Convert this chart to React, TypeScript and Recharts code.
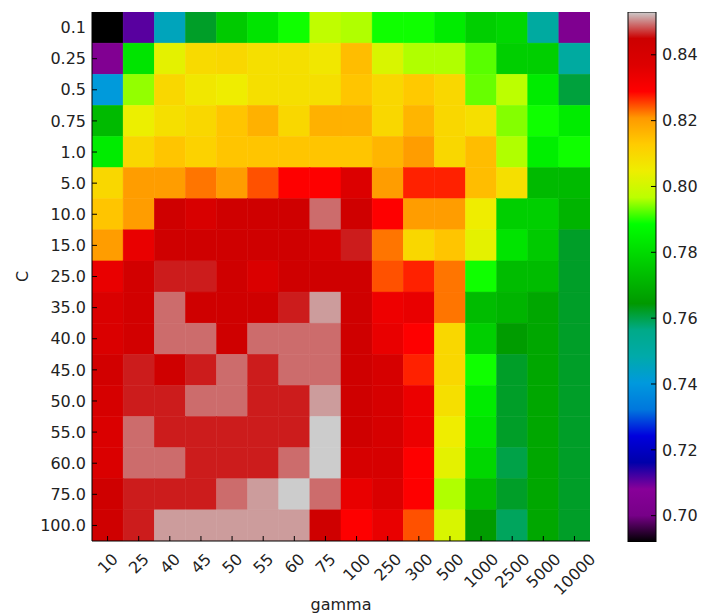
import { ScatterChart, Scatter, BarChart, Bar, XAxis, YAxis, Label } from 'recharts'

// grid search: SVM accuracy for each (C, gamma) pair
const GAMMAS = [10, 25, 40, 45, 50, 55, 60, 75, 100, 250, 300, 500, 1000, 2500, 5000, 10000]
const C_VALUES = [0.1, 0.25, 0.5, 0.75, 1.0, 5.0, 10.0, 15.0, 25.0, 35.0, 40.0, 45.0, 50.0, 55.0, 60.0, 75.0, 100.0]

// one row per C, one value per gamma
const SCORES = [
  [0.692, 0.711, 0.746, 0.762, 0.776, 0.782, 0.789, 0.7975, 0.796, 0.789, 0.789, 0.784, 0.777, 0.779, 0.751, 0.704],
  [0.705, 0.782, 0.803, 0.809, 0.81, 0.808, 0.808, 0.806, 0.815, 0.801, 0.796, 0.796, 0.792, 0.777, 0.777, 0.751],
  [0.741, 0.795, 0.81, 0.806, 0.805, 0.808, 0.808, 0.808, 0.814, 0.81, 0.813, 0.81, 0.793, 0.7965, 0.784, 0.761],
  [0.772, 0.804, 0.808, 0.81, 0.814, 0.817, 0.81, 0.817, 0.817, 0.81, 0.8165, 0.81, 0.808, 0.794, 0.789, 0.784],
  [0.784, 0.81, 0.814, 0.811, 0.814, 0.814, 0.814, 0.814, 0.814, 0.8165, 0.82, 0.81, 0.815, 0.796, 0.785, 0.789],
  [0.81, 0.82, 0.82, 0.8225, 0.82, 0.8245, 0.829, 0.829, 0.837, 0.82, 0.827, 0.827, 0.815, 0.808, 0.772, 0.772],
  [0.814, 0.82, 0.843, 0.839, 0.843, 0.843, 0.843, 0.8486, 0.843, 0.829, 0.82, 0.82, 0.805, 0.777, 0.777, 0.771],
  [0.82, 0.834, 0.843, 0.843, 0.843, 0.843, 0.843, 0.84, 0.846, 0.8225, 0.81, 0.814, 0.803, 0.782, 0.776, 0.762],
  [0.834, 0.842, 0.846, 0.846, 0.843, 0.838, 0.843, 0.843, 0.843, 0.8245, 0.827, 0.8225, 0.789, 0.773, 0.773, 0.762],
  [0.838, 0.842, 0.8486, 0.843, 0.843, 0.843, 0.846, 0.851, 0.843, 0.8324, 0.834, 0.8225, 0.773, 0.771, 0.768, 0.762],
  [0.838, 0.842, 0.8486, 0.8486, 0.843, 0.8486, 0.8486, 0.8486, 0.843, 0.834, 0.829, 0.81, 0.777, 0.765, 0.768, 0.762],
  [0.842, 0.846, 0.843, 0.846, 0.8486, 0.846, 0.8486, 0.8486, 0.843, 0.84, 0.827, 0.81, 0.789, 0.762, 0.768, 0.762],
  [0.84, 0.846, 0.846, 0.8486, 0.8486, 0.846, 0.846, 0.851, 0.843, 0.84, 0.833, 0.808, 0.784, 0.762, 0.768, 0.762],
  [0.838, 0.8486, 0.846, 0.846, 0.846, 0.846, 0.846, 0.853, 0.843, 0.84, 0.833, 0.805, 0.782, 0.762, 0.768, 0.762],
  [0.838, 0.8486, 0.8486, 0.846, 0.846, 0.846, 0.8486, 0.853, 0.84, 0.84, 0.829, 0.803, 0.779, 0.76, 0.768, 0.762],
  [0.843, 0.846, 0.846, 0.846, 0.8486, 0.851, 0.853, 0.8486, 0.834, 0.838, 0.829, 0.796, 0.772, 0.762, 0.768, 0.762],
  [0.843, 0.846, 0.851, 0.851, 0.851, 0.851, 0.851, 0.843, 0.829, 0.834, 0.8245, 0.801, 0.765, 0.759, 0.768, 0.762],
]

const CBAR_TICKS = [0.7, 0.72, 0.74, 0.76, 0.78, 0.8, 0.82, 0.84]
const VMIN = 0.692
const VMAX = 0.853
const CBAR_DATA = [{ name: 'score', range: [VMIN, VMAX] }]

// nipy_spectral control points, every 0.05
const NS_R = [0, 0.4667, 0.5333, 0, 0, 0, 0, 0, 0, 0, 0, 0, 0, 0.7333, 0.9333, 1, 1, 1, 0.8667, 0.8, 0.8]
const NS_G = [0, 0, 0, 0, 0, 0.4667, 0.6, 0.6667, 0.6667, 0.6, 0.7333, 0.8667, 1, 1, 0.9333, 0.8, 0.6, 0, 0, 0, 0.8]
const NS_B = [0, 0.5333, 0.6, 0.6667, 0.8667, 0.8667, 0.8667, 0.6667, 0.5333, 0, 0, 0, 0, 0, 0, 0, 0, 0, 0, 0, 0.8]

const rgbAt = (t: number) => {
  const p = Math.min(Math.max(t, 0), 1) * 20
  const i = Math.min(Math.floor(p), 19)
  const f = p - i
  const ch = (a: number[]) => Math.round((a[i] + (a[i + 1] - a[i]) * f) * 255)
  return `rgb(${ch(NS_R)},${ch(NS_G)},${ch(NS_B)})`
}

const colorFor = (v: number) => {
  // 256-entry lookup like matplotlib
  const idx = Math.min(255, Math.max(0, Math.floor(((v - VMIN) / (VMAX - VMIN)) * 256)))
  return rgbAt(idx / 255)
}

const cells = SCORES.flatMap((row, ci) => row.map((score, gi) => ({ gi, ci, score })))

const FONT = 'DejaVu Sans'
const FS = 16
const INK = '#222'
const PLOT = { left: 92, top: 12, right: 590, bottom: 541 }
const CELL_W = (PLOT.right - PLOT.left) / GAMMAS.length
const CELL_H = (PLOT.bottom - PLOT.top) / C_VALUES.length
const HEAT_MARGIN = { top: PLOT.top, right: 702 - PLOT.right, bottom: 0, left: 0 }
const CBAR_MARGIN = { top: 12, right: 0, bottom: 73, left: 28 }

const HeatCell = (props: any) => {
  const { cx, cy, payload } = props
  const fill = colorFor(payload.score)
  return (
    <rect
      x={cx - CELL_W / 2}
      y={cy - CELL_H / 2}
      width={CELL_W}
      height={CELL_H}
      fill={fill}
      stroke={fill}
      strokeWidth={0.5}
    />
  )
}

const GammaTick = ({ x, y, payload }: any) => {
  const label = String(GAMMAS[payload.value])
  const w = label.length * 0.636 * FS
  const h = 0.73 * FS
  const half = ((w + h) * 0.7071) / 2
  return (
    <text
      transform={`translate(${x},${y + half}) rotate(-45)`}
      textAnchor="middle"
      dy="0.36em"
      fill={INK}
      fontSize={FS}
      fontFamily={FONT}
    >
      {label}
    </text>
  )
}

const fmtC = (v: number) => (Number.isInteger(v) ? v.toFixed(1) : String(v))

const tickStyle = { fill: INK, fontSize: FS, fontFamily: FONT }
const line = { stroke: '#000' }
const gIdx = GAMMAS.map((_, i) => i)
const cIdx = C_VALUES.map((_, i) => i)
const gDomain: [number, number] = [-0.5, GAMMAS.length - 0.5]
const cDomain: [number, number] = [-0.5, C_VALUES.length - 0.5]

// the axes get drawn twice: silent in the cell chart (for layout), and for real in an overlay on top
const heatAxes = (show: boolean) => [
  <XAxis
    key="b"
    xAxisId="b"
    type="number"
    dataKey="gi"
    domain={gDomain}
    allowDataOverflow
    ticks={gIdx}
    interval={0}
    height={615 - PLOT.bottom}
    tickSize={-5}
    tickMargin={16}
    tick={show ? <GammaTick /> : false}
    axisLine={show ? line : false}
    tickLine={show ? line : false}
  >
    {show && (
      <Label
        content={() => (
          <text x={(PLOT.left + PLOT.right) / 2} y={610} textAnchor="middle" fill={INK} fontSize={FS} fontFamily={FONT}>
            gamma
          </text>
        )}
      />
    )}
  </XAxis>,
  <XAxis
    key="t"
    xAxisId="t"
    orientation="top"
    type="number"
    domain={gDomain}
    allowDataOverflow
    ticks={gIdx}
    interval={0}
    height={0}
    tickSize={-5}
    tick={false}
    axisLine={show ? line : false}
    tickLine={show ? line : false}
  />,
  <YAxis
    key="l"
    yAxisId="l"
    type="number"
    dataKey="ci"
    domain={cDomain}
    allowDataOverflow
    reversed
    ticks={cIdx}
    interval={0}
    tickFormatter={(i: number) => fmtC(C_VALUES[i])}
    width={PLOT.left}
    tickSize={-5}
    tickMargin={11}
    tick={show ? tickStyle : false}
    axisLine={show ? line : false}
    tickLine={show ? line : false}
  >
    {show && (
      <Label
        content={() => (
          <text
            transform={`translate(28,${(PLOT.top + PLOT.bottom) / 2}) rotate(-90)`}
            textAnchor="middle"
            fill={INK}
            fontSize={FS}
            fontFamily={FONT}
          >
            C
          </text>
        )}
      />
    )}
  </YAxis>,
  <YAxis
    key="r"
    yAxisId="r"
    orientation="right"
    type="number"
    domain={cDomain}
    allowDataOverflow
    reversed
    ticks={cIdx}
    interval={0}
    width={0}
    tickSize={-5}
    tick={false}
    axisLine={show ? line : false}
    tickLine={show ? line : false}
  />,
]

const cbarAxes = (show: boolean) => [
  <XAxis key="x" xAxisId="cb" dataKey="name" hide />,
  <YAxis
    key="y"
    yAxisId="cb"
    orientation="right"
    type="number"
    domain={[VMIN, VMAX]}
    allowDataOverflow
    ticks={CBAR_TICKS}
    interval={0}
    tickFormatter={(v: number) => v.toFixed(2)}
    width={46}
    tickSize={-5}
    tickMargin={11}
    tick={show ? tickStyle : false}
    axisLine={false}
    tickLine={show ? line : false}
  />,
]

const layer = (left: number): React.CSSProperties => ({ position: 'absolute', left, top: 0 })

export default function App() {
  return (
    <div style={{ position: 'absolute', left: 0, top: 0, width: 702, height: 615, background: '#fff', fontFamily: FONT }}>
      <div style={layer(0)}>
        <ScatterChart width={702} height={615} margin={HEAT_MARGIN}>
          {heatAxes(false)}
          <Scatter
            data={cells}
            dataKey="ci"
            xAxisId="b"
            yAxisId="l"
            shape={HeatCell}
            isAnimationActive={false}
          />
        </ScatterChart>
      </div>
      <div style={layer(0)}>
        <ScatterChart width={702} height={615} margin={HEAT_MARGIN}>
          {heatAxes(true)}
        </ScatterChart>
      </div>
      <div style={layer(600)}>
        <BarChart width={102} height={615} margin={CBAR_MARGIN} data={CBAR_DATA} barCategoryGap={0}>
          <defs>
            <linearGradient id="nipyGrad" x1="0" y1="1" x2="0" y2="0">
              {NS_R.map((_, k) => (
                <stop key={k} offset={`${k * 5}%`} stopColor={rgbAt(k / 20)} />
              ))}
            </linearGradient>
          </defs>
          {cbarAxes(false)}
          <Bar
            dataKey="range"
            xAxisId="cb"
            yAxisId="cb"
            fill="url(#nipyGrad)"
            stroke="#000"
            strokeWidth={1}
            isAnimationActive={false}
          />
        </BarChart>
      </div>
      <div style={layer(600)}>
        <BarChart width={102} height={615} margin={CBAR_MARGIN} data={CBAR_DATA} barCategoryGap={0}>
          {cbarAxes(true)}
        </BarChart>
      </div>
    </div>
  )
}
